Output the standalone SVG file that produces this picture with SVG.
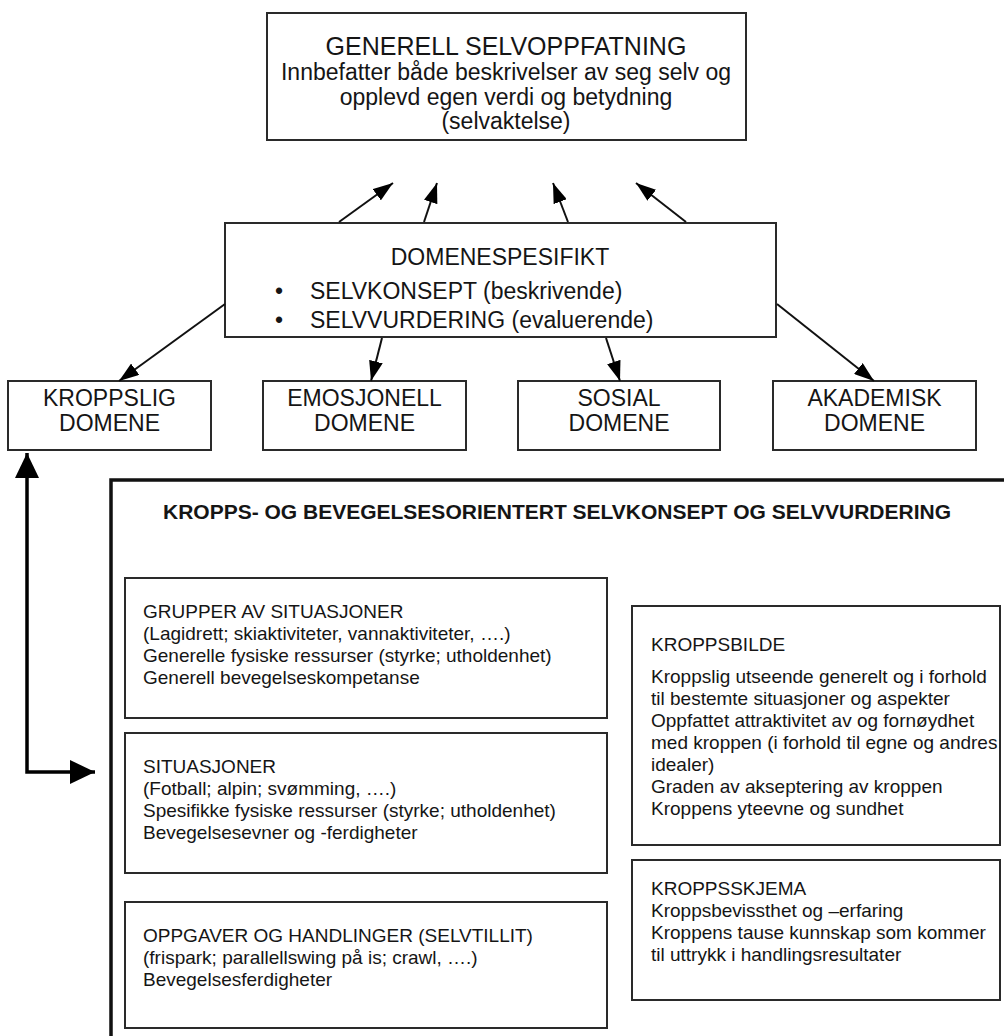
<svg xmlns="http://www.w3.org/2000/svg" width="1004" height="1036" viewBox="0 0 1004 1036">
<style>
text{font-family:"Liberation Sans",Arial,sans-serif;fill:#151515}
.box{fill:#fff;stroke:#2a2a2a;stroke-width:2}
.big{fill:#fff;stroke:#111;stroke-width:3.5}
.t25{font-size:25px}
.t23{font-size:23px}
.t19{font-size:19px}
.tb{font-size:21px;font-weight:bold}
.c{text-anchor:middle}
.ln{stroke:#111;stroke-width:2;fill:none}
.thk{stroke:#000;stroke-width:3.5;fill:none}
</style>
<defs>
<marker id="ah" viewBox="0 0 20 14" refX="20" refY="7" markerWidth="20" markerHeight="14" markerUnits="userSpaceOnUse" orient="auto-start-reverse">
<path d="M0,0 L20,7 L0,14 z" fill="#000"/>
</marker>
<marker id="ahb" viewBox="0 0 25 24" refX="25" refY="12" markerWidth="25" markerHeight="24" markerUnits="userSpaceOnUse" orient="auto-start-reverse">
<path d="M0,0 L25,12 L0,24 z" fill="#000"/>
</marker>
</defs>
<rect width="1004" height="1036" fill="#fff"/>

<g id="generell">
<rect class="box" x="267" y="13" width="479" height="127"/>
<text class="t25 c" x="506" y="55">GENERELL SELVOPPFATNING</text>
<text class="t23 c" x="506" y="80">Innbefatter både beskrivelser av seg selv og</text>
<text class="t23 c" x="506" y="105">opplevd egen verdi og betydning</text>
<text class="t23 c" x="506" y="129">(selvaktelse)</text>
</g>

<g id="domenespesifikt">
<rect class="box" x="225" y="223" width="551" height="114"/>
<text class="t23 c" x="500" y="265">DOMENESPESIFIKT</text>
<text class="t23" x="275" y="299">•</text>
<text class="t23" x="310" y="299">SELVKONSEPT (beskrivende)</text>
<text class="t23" x="275" y="328">•</text>
<text class="t23" x="310" y="328">SELVVURDERING (evaluerende)</text>
</g>

<g id="kroppslig">
<rect class="box" x="8" y="381" width="203" height="69"/>
<text class="t23 c" x="109.5" y="406">KROPPSLIG</text>
<text class="t23 c" x="109.5" y="431">DOMENE</text>
</g>
<g id="emosjonell">
<rect class="box" x="263" y="381" width="203" height="69"/>
<text class="t23 c" x="364.5" y="406">EMOSJONELL</text>
<text class="t23 c" x="364.5" y="431">DOMENE</text>
</g>
<g id="sosial">
<rect class="box" x="518" y="381" width="202" height="69"/>
<text class="t23 c" x="619" y="406">SOSIAL</text>
<text class="t23 c" x="619" y="431">DOMENE</text>
</g>
<g id="akademisk">
<rect class="box" x="773" y="381" width="203" height="69"/>
<text class="t23 c" x="874.5" y="406">AKADEMISK</text>
<text class="t23 c" x="874.5" y="431">DOMENE</text>
</g>

<g id="kropps-bevegelse">
<rect class="big" x="111" y="480" width="1000" height="600"/>
<text class="tb c" x="557" y="519">KROPPS- OG BEVEGELSESORIENTERT SELVKONSEPT OG SELVVURDERING</text>
</g>

<g id="grupper">
<rect class="box" x="125" y="578" width="482" height="140"/>
<text class="t19" x="143" y="618">GRUPPER AV SITUASJONER</text>
<text class="t19" x="143" y="640">(Lagidrett; skiaktiviteter, vannaktiviteter, ….)</text>
<text class="t19" x="143" y="662">Generelle fysiske ressurser (styrke; utholdenhet)</text>
<text class="t19" x="143" y="684">Generell bevegelseskompetanse</text>
</g>

<g id="situasjoner">
<rect class="box" x="125" y="733" width="482" height="140"/>
<text class="t19" x="143" y="773">SITUASJONER</text>
<text class="t19" x="143" y="795">(Fotball; alpin; svømming, ….)</text>
<text class="t19" x="143" y="817">Spesifikke fysiske ressurser (styrke; utholdenhet)</text>
<text class="t19" x="143" y="839">Bevegelsesevner og -ferdigheter</text>
</g>

<g id="oppgaver">
<rect class="box" x="125" y="902" width="482" height="126"/>
<text class="t19" x="143" y="942">OPPGAVER OG HANDLINGER (SELVTILLIT)</text>
<text class="t19" x="143" y="964">(frispark; parallellswing på is; crawl, ….)</text>
<text class="t19" x="143" y="986">Bevegelsesferdigheter</text>
</g>

<g id="kroppsbilde">
<rect class="box" x="632" y="606" width="368" height="239"/>
<text class="t19" x="651" y="651">KROPPSBILDE</text>
<text class="t19" x="651" y="683">Kroppslig utseende generelt og i forhold</text>
<text class="t19" x="651" y="705">til bestemte situasjoner og aspekter</text>
<text class="t19" x="651" y="727">Oppfattet attraktivitet av og fornøydhet</text>
<text class="t19" x="651" y="749">med kroppen (i forhold til egne og andres</text>
<text class="t19" x="651" y="771">idealer)</text>
<text class="t19" x="651" y="793">Graden av akseptering av kroppen</text>
<text class="t19" x="651" y="815">Kroppens yteevne og sundhet</text>
</g>

<g id="kroppsskjema">
<rect class="box" x="632" y="860" width="368" height="140"/>
<text class="t19" x="651" y="895">KROPPSSKJEMA</text>
<text class="t19" x="651" y="917">Kroppsbevissthet og –erfaring</text>
<text class="t19" x="651" y="939">Kroppens tause kunnskap som kommer</text>
<text class="t19" x="651" y="961">til uttrykk i handlingsresultater</text>
</g>

<g id="connectors">
<line class="ln" x1="339" y1="222" x2="393" y2="183" marker-end="url(#ah)"/>
<line class="ln" x1="424" y1="222" x2="437" y2="183" marker-end="url(#ah)"/>
<line class="ln" x1="568" y1="222" x2="553" y2="183" marker-end="url(#ah)"/>
<line class="ln" x1="686" y1="222" x2="636" y2="183" marker-end="url(#ah)"/>
<line class="ln" x1="225" y1="304" x2="119" y2="381" marker-end="url(#ah)"/>
<line class="ln" x1="382" y1="338" x2="371" y2="381" marker-end="url(#ah)"/>
<line class="ln" x1="606" y1="338" x2="620" y2="381" marker-end="url(#ah)"/>
<line class="ln" x1="777" y1="304" x2="874" y2="381" marker-end="url(#ah)"/>
<path class="thk" d="M27,453 L27,772 L95,772" marker-start="url(#ahb)" marker-end="url(#ahb)"/>
</g>
</svg>
